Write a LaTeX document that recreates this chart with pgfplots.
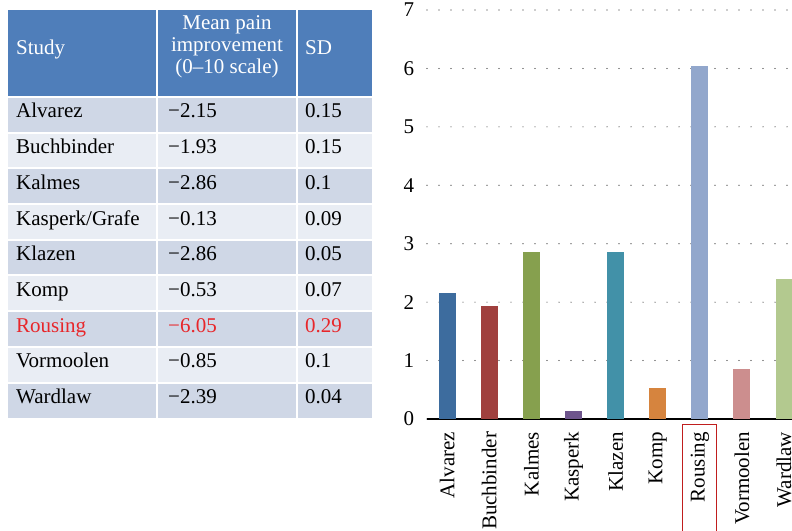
\documentclass[border=0pt]{standalone}
\usepackage{fontspec}
\setmainfont{Liberation Serif}
\usepackage{pgfplots}
\pgfplotsset{compat=1.18}
\definecolor{hdr}{RGB}{79,126,186}
\definecolor{rowA}{RGB}{207,215,230}
\definecolor{rowB}{RGB}{233,237,244}
\definecolor{redt}{RGB}{232,38,42}
\definecolor{boxred}{RGB}{192,30,30}
\definecolor{c1}{RGB}{61,108,158}
\definecolor{c2}{RGB}{160,64,62}
\definecolor{c3}{RGB}{134,160,78}
\definecolor{c4}{RGB}{110,85,140}
\definecolor{c5}{RGB}{66,145,168}
\definecolor{c6}{RGB}{214,132,62}
\definecolor{c7}{RGB}{146,167,204}
\definecolor{c8}{RGB}{204,142,142}
\definecolor{c9}{RGB}{179,201,143}
\newcommand\tf{\fontsize{21bp}{22bp}\selectfont}
\begin{document}
\begin{tikzpicture}
\useasboundingbox (0,0) rectangle (792bp,531bp);
\begin{scope}[shift={(0,531bp)}, x=1bp, y=-1bp]
  \fill[hdr] (8,10) rectangle (372,97);
  \fill[rowA] (8,97) rectangle (372,132.7);
  \fill[rowB] (8,132.7) rectangle (372,168.4);
  \fill[rowA] (8,168.4) rectangle (372,204.1);
  \fill[rowB] (8,204.1) rectangle (372,239.8);
  \fill[rowA] (8,239.8) rectangle (372,275.5);
  \fill[rowB] (8,275.5) rectangle (372,311.2);
  \fill[rowA] (8,311.2) rectangle (372,346.9);
  \fill[rowB] (8,346.9) rectangle (372,382.6);
  \fill[rowA] (8,382.6) rectangle (372,418.3);
  \begin{scope}[white, line width=2bp]
    \draw (157,10) -- (157,418.3);
    \draw (296.5,10) -- (296.5,418.3);
    \foreach \yy in {97,132.7,168.4,204.1,239.8,275.5,311.2,346.9,382.6}
      \draw (8,\yy) -- (372,\yy);
  \end{scope}
  % header
  \node[white, anchor=base west, inner sep=0pt] at (16,54.5) {\tf Study};
  \node[white, anchor=base west, inner sep=0pt] at (305,54.5) {\tf SD};
  \node[white, anchor=base, inner sep=0pt] at (227,30) {\tf Mean pain};
  \node[white, anchor=base, inner sep=0pt] at (227,52) {\tf improvement};
  \node[white, anchor=base, inner sep=0pt] at (227,74) {\tf (0–10 scale)};
  % rows
  \foreach \i/\s/\m/\d in {0/Alvarez/−2.15/0.15, 1/Buchbinder/−1.93/0.15, 2/Kalmes/−2.86/0.1, 3/Kasperk\slash Grafe/−0.13/0.09, 4/Klazen/−2.86/0.05, 5/Komp/−0.53/0.07, 7/Vormoolen/−0.85/0.1, 8/Wardlaw/−2.39/0.04} {
    \pgfmathsetmacro\bl{97+35.7*\i+21}
    \node[anchor=base west, inner sep=0pt] at (16,\bl) {\tf \s};
    \node[anchor=base west, inner sep=0pt] at (168,\bl) {\tf \m};
    \node[anchor=base west, inner sep=0pt] at (305,\bl) {\tf \d};
  }
  \pgfmathsetmacro\bl{97+35.7*6+21}
  \node[redt, anchor=base west, inner sep=0pt] at (16,\bl) {\tf Rousing};
  \node[redt, anchor=base west, inner sep=0pt] at (168,\bl) {\tf −6.05};
  \node[redt, anchor=base west, inner sep=0pt] at (305,\bl) {\tf 0.29};
\end{scope}
\begin{axis}[
  at={(427bp,112bp)}, anchor=south west,
  scale only axis, width=365bp, height=409bp,
  xmin=-0.48, xmax=8.19, ymin=0, ymax=7,
  xtick={0,...,8}, ytick={0,...,7},
  xticklabels={Alvarez,Buchbinder,Kalmes,Kasperk,Klazen,Komp,Rousing,Vormoolen,Wardlaw},
  axis x line*=bottom, axis y line*=left,
  y axis line style={draw=none},
  x axis line style={line width=1.5bp, -, black},
  major tick length=0pt, tick style={draw=none},
  ymajorgrids,
  major grid style={black!85, line width=1.2bp, line cap=round, dash pattern=on 0pt off 12bp},
  ticklabel style={font=\tf},
  /pgf/number format/assume math mode=true,
  xticklabel style={rotate=90, anchor=east, inner sep=0pt, outer sep=13bp},
  yticklabel style={anchor=east, inner sep=0pt, outer sep=13bp},
  ybar, bar width=17bp,
  clip=false,
]
\addplot[fill=c1, draw=none, bar shift=0pt] coordinates {(0,2.15)};
\addplot[fill=c2, draw=none, bar shift=0pt] coordinates {(1,1.93)};
\addplot[fill=c3, draw=none, bar shift=0pt] coordinates {(2,2.86)};
\addplot[fill=c4, draw=none, bar shift=0pt] coordinates {(3,0.13)};
\addplot[fill=c5, draw=none, bar shift=0pt] coordinates {(4,2.86)};
\addplot[fill=c6, draw=none, bar shift=0pt] coordinates {(5,0.53)};
\addplot[fill=c7, draw=none, bar shift=0pt] coordinates {(6,6.05)};
\addplot[fill=c8, draw=none, bar shift=0pt] coordinates {(7,0.85)};
\addplot[fill=c9, draw=none, bar shift=0pt] coordinates {(8,2.39)};
\draw[boxred, line width=1bp] (axis cs:5.6,-0.1) rectangle (axis cs:6.39,-2.5);
\end{axis}
\end{tikzpicture}
\end{document}
